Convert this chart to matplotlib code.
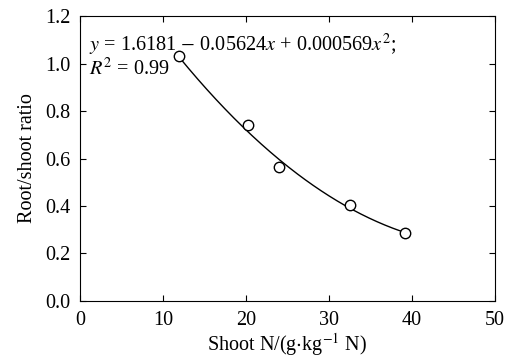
import numpy as np
import matplotlib
matplotlib.use('Agg')
import matplotlib.pyplot as plt

plt.rcParams['font.family'] = 'Liberation Serif'
plt.rcParams['mathtext.fontset'] = 'stix'

# observed points
shoot_n = [11.9, 20.2, 24.0, 32.5, 39.2]
root_shoot = [1.03, 0.74, 0.565, 0.405, 0.285]

# fitted quadratic shown on the chart (highest power first)
fit_coef = [0.000569, -0.05624, 1.6181]
fit_range = [12.0, 39.2]

x_ticks = [0, 10, 20, 30, 40, 50]
y_ticks = [0.0, 0.2, 0.4, 0.6, 0.8, 1.0, 1.2]

fig = plt.figure(figsize=(5.14, 3.57), dpi=100)
ax = fig.add_axes([0.1556, 0.157, 0.807, 0.798])

xf = np.linspace(fit_range[0], fit_range[1], 200)
ax.plot(xf, np.polyval(fit_coef, xf), color='black', lw=1.0)
ax.plot(shoot_n, root_shoot, 'o', mfc='white', mec='black', ms=7.5, mew=1.0)

ax.set_xlim(0, 50)
ax.set_ylim(0, 1.2)
ax.set_xticks(x_ticks)
ax.set_yticks(y_ticks)
ax.set_yticklabels([f'{v:.1f}' for v in y_ticks])
ax.tick_params(direction='in', top=True, right=True, labelsize=14.5, length=4, width=0.8)
ax.tick_params(axis='y', pad=7)
ax.tick_params(axis='x', pad=7)
for s in ax.spines.values():
    s.set_linewidth(0.8)

ax.set_xlabel('Shoot N/(g$\\cdot$kg$^{-1}$ N)', fontsize=14.5, labelpad=1)
ax.set_ylabel('Root/shoot ratio', fontsize=14.5, labelpad=6)

eq = '$y$ = 1.6181 $-$ 0.05624$x$ + 0.000569$x^2$;\n$R^2$ = 0.99'
ax.text(1.1, 1.03, eq, fontsize=14.6, va='center', linespacing=1.0)

fig.savefig('out.png', dpi=100)
